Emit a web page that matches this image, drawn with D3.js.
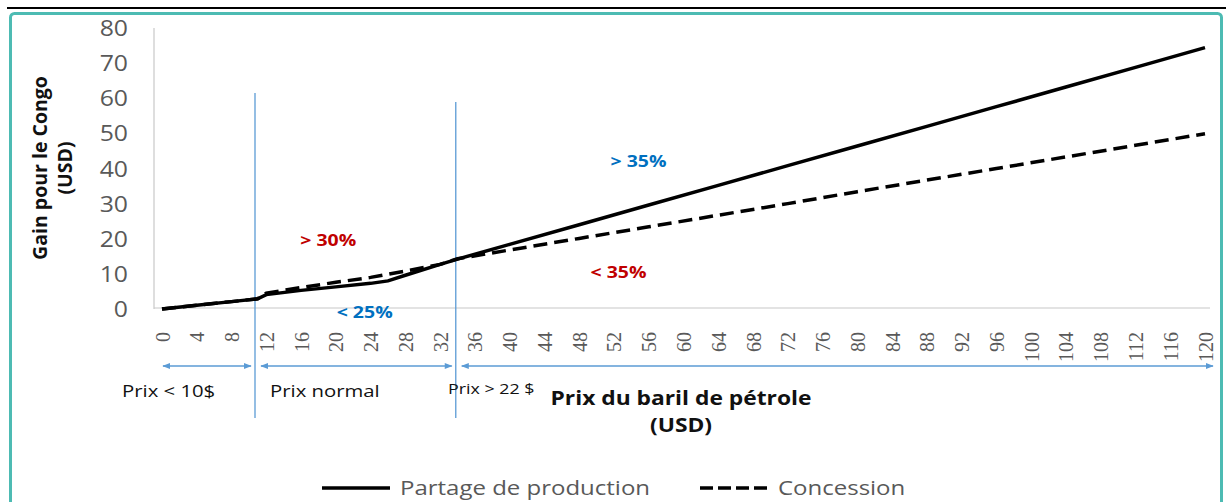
<!DOCTYPE html>
<html><head><meta charset="utf-8">
<script src="https://cdn.jsdelivr.net/npm/d3@7"></script>
<style>
body{margin:0;background:#fff;}
svg{display:block;}
</style></head>
<body>
<svg id="chart" width="1226" height="502"></svg>
<script>
// ---- data ----
const prices = [0, 4, 8, 11, 12, 16, 20, 24, 26, 28, 32, 34, 40, 48, 56, 64, 72, 80, 88, 96, 104, 112, 120];
const partage = [0, 1.1, 2.1, 2.9, 4.1, 5.3, 6.3, 7.3, 8.0, 9.6, 12.7, 14.2, 18.4, 24.0, 29.6, 35.2, 40.8, 46.4, 52.0, 57.6, 63.2, 68.8, 74.4];
const concession = [0, 1.1, 2.1, 2.9, 4.5, 6.1, 7.6, 9.0, 9.9, 10.8, 12.7, 14.3, 16.8, 20.1, 23.4, 26.7, 30.0, 33.4, 36.7, 40.0, 43.3, 46.6, 49.9];
const xTicks = d3.range(0, 121, 4);
const yTicks = [0, 10, 20, 30, 40, 50, 60, 70, 80];
const seriesNames = ["Partage de production", "Concession"];
const boundaries = [10.7, 33.8];
const zones = [
  {from: 0, to: 10.7, label: "Prix < 10$"},
  {from: 10.7, to: 33.8, label: "Prix normal"},
  {from: 33.8, to: 120, label: "Prix > 22 $"}
];
const rateNotes = [
  {x: 15.9, y: 19.5, text: "> 30%", color: "#c00000"},
  {x: 20.1, y: -1, text: "< 25%", color: "#0070c0"},
  {x: 51.6, y: 42, text: "> 35%", color: "#0070c0"},
  {x: 49.3, y: 10.5, text: "< 35%", color: "#c00000"}
];

// ---- chart ----
const svg = d3.select("#chart");
const x = d3.scaleLinear().domain([0, 120]).range([162, 1205]);
const y = d3.scaleLinear().domain([0, 80]).range([309, 28]);
const blue = "#5b9bd5";
const grayText = "#595959";
const WIDEN = 1.23;
function widen(sel, f) {
  sel.each(function () {
    const len = this.getComputedTextLength();
    d3.select(this).attr("textLength", len * (f || WIDEN)).attr("lengthAdjust", "spacingAndGlyphs");
  });
}

// top rule and teal frame
svg.append("line").attr("x1", 7).attr("x2", 1226).attr("y1", 8).attr("y2", 8)
  .attr("stroke", "#000").attr("stroke-width", 2);
svg.append("rect").attr("x", 10.5).attr("y", 13.5).attr("width", 1211).attr("height", 500)
  .attr("rx", 4).attr("fill", "none").attr("stroke", "#4dbbb3").attr("stroke-width", 3);

// axes lines
svg.append("line").attr("x1", 154).attr("x2", 154).attr("y1", y(80)).attr("y2", y(0))
  .attr("stroke", "#c8c8c8").attr("stroke-width", 1.2);
svg.append("line").attr("x1", 154).attr("x2", 1210).attr("y1", y(0) - 1).attr("y2", y(0) - 1)
  .attr("stroke", "#c8c8c8").attr("stroke-width", 1.2);

// y tick labels
const yAxis = d3.axisLeft(y).tickValues(yTicks).tickSize(0).tickPadding(0);
const gy = svg.append("g").attr("transform", "translate(128,0)").call(yAxis);
gy.select(".domain").remove();
gy.selectAll("text").attr("font-family", "'Open Sans', sans-serif").attr("font-size", 21)
  .attr("fill", grayText).attr("dy", "0.36em");
widen(gy.selectAll("text"), 1.18);

// x tick labels (rotated)
const xAxis = d3.axisBottom(x).tickValues(xTicks).tickSize(0).tickPadding(0);
const gx = svg.append("g").attr("transform", "translate(0,332)").call(xAxis);
gx.select(".domain").remove();
gx.selectAll("text").attr("font-family", "'Liberation Serif', serif").attr("font-size", 20)
  .attr("fill", grayText).attr("transform", "rotate(-90)")
  .attr("text-anchor", "end").attr("x", 0).attr("y", 0).attr("dy", "0.35em");

// boundary lines
const bTops = [93, 102];
boundaries.forEach((b, i) => {
  svg.append("line").attr("x1", x(b)).attr("x2", x(b)).attr("y1", bTops[i]).attr("y2", 418)
    .attr("stroke", blue).attr("stroke-width", 1.3);
});

// arrows
const defs = svg.append("defs");
defs.append("marker").attr("id", "ah").attr("viewBox", "0 0 10 10").attr("refX", 9).attr("refY", 5)
  .attr("markerWidth", 8).attr("markerHeight", 6).attr("orient", "auto-start-reverse")
  .append("path").attr("d", "M0,1 L10,5 L0,9 z").attr("fill", blue);
const arrowY = 366;
zones.forEach((z, i) => {
  svg.append("line").attr("x1", x(z.from) + (i === 0 ? 1 : 6)).attr("x2", i === 2 ? 1213 : x(z.to) - 4)
    .attr("y1", arrowY).attr("y2", arrowY).attr("stroke", blue).attr("stroke-width", 1.3)
    .attr("marker-start", "url(#ah)").attr("marker-end", "url(#ah)");
});
const zoneLabelPos = [[122, 391, 16.5], [270, 391, 16.5], [448, 389, 14.5]];
zones.forEach((z, i) => {
  const t = svg.append("text").attr("x", zoneLabelPos[i][0]).attr("y", zoneLabelPos[i][1])
    .attr("dy", "0.35em").attr("font-family", "'Open Sans', sans-serif")
    .attr("font-size", zoneLabelPos[i][2]).attr("fill", "#111").text(z.label);
  widen(t);
});

// lines
const line = d3.line().x(d => x(d[0])).y(d => y(d[1]));
svg.append("path").datum(prices.map((p, i) => [p, concession[i]])).attr("d", line)
  .attr("fill", "none").attr("stroke", "#000").attr("stroke-width", 3.5)
  .attr("stroke-dasharray", "14,7");
svg.append("path").datum(prices.map((p, i) => [p, partage[i]])).attr("d", line)
  .attr("fill", "none").attr("stroke", "#000").attr("stroke-width", 3.5);

// rate notes
rateNotes.forEach(n => {
  const t = svg.append("text").attr("x", x(n.x)).attr("y", y(n.y)).attr("dy", "0.35em")
    .attr("font-family", "'Open Sans', sans-serif").attr("font-weight", "bold").attr("font-size", 16.5)
    .attr("fill", n.color).text(n.text);
  widen(t, 1.18);
});

// axis titles
const yt = svg.append("text").attr("transform", "translate(40,168) rotate(-90)")
  .attr("text-anchor", "middle").attr("font-family", "'Open Sans', sans-serif")
  .attr("font-weight", "bold").attr("font-size", 19.5).attr("fill", "#111");
yt.append("tspan").attr("x", 0).attr("dy", "0.35em").text("Gain pour le Congo");
yt.append("tspan").attr("x", 0).attr("dy", "1.3em").text("(USD)");

const xt1 = svg.append("text").attr("x", 681).attr("y", 398).attr("dy", "0.35em").attr("text-anchor", "middle")
  .attr("font-family", "'Open Sans', sans-serif").attr("font-weight", "bold").attr("font-size", 19)
  .attr("fill", "#111").text("Prix du baril de pétrole");
widen(xt1, 1.2);
const xt2 = svg.append("text").attr("x", 681).attr("y", 425).attr("dy", "0.35em").attr("text-anchor", "middle")
  .attr("font-family", "'Open Sans', sans-serif").attr("font-weight", "bold").attr("font-size", 19)
  .attr("fill", "#111").text("(USD)");
widen(xt2, 1.2);

// legend
const legY = 488;
const leg = [
  {x1: 322, x2: 390, tx: 400, dash: null},
  {x1: 700, x2: 770, tx: 778, dash: "13,5"}
];
leg.forEach((l, i) => {
  const ln = svg.append("line").attr("x1", l.x1).attr("x2", l.x2).attr("y1", legY).attr("y2", legY)
    .attr("stroke", "#000").attr("stroke-width", 3.5);
  if (l.dash) ln.attr("stroke-dasharray", l.dash);
  const t = svg.append("text").attr("x", l.tx).attr("y", legY).attr("dy", "0.35em")
    .attr("font-family", "'Open Sans', sans-serif").attr("font-size", 19.5)
    .attr("fill", grayText).text(seriesNames[i]);
  widen(t);
});
</script>
</body></html>
